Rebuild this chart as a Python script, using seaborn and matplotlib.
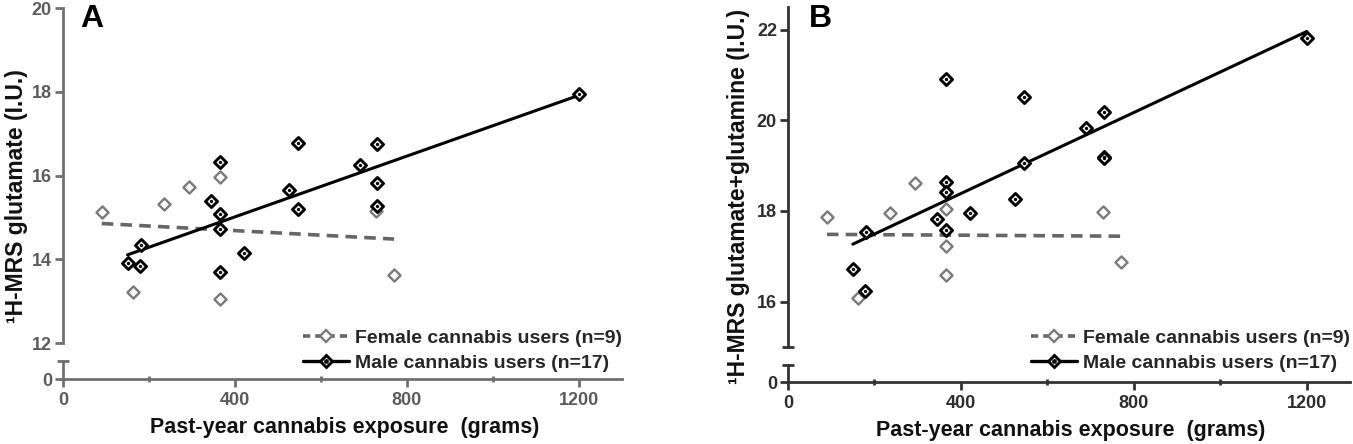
import numpy as np
import pandas as pd
import matplotlib
matplotlib.use("Agg")
import matplotlib.pyplot as plt
import seaborn as sns
from matplotlib.lines import Line2D

# ---------------- data ----------------
female_grams = [90, 162, 236, 294, 365, 365, 365, 728, 770]
female_glu = [15.14, 13.21, 15.32, 15.72, 15.97, 15.07, 13.06, 15.16, 13.63]
female_glx = [17.86, 16.08, 17.95, 18.61, 18.04, 17.23, 16.59, 17.98, 16.87]

male_grams = [150, 178, 181, 345, 365, 365, 365, 365, 420, 525, 547, 547, 690, 730, 730, 730, 1200]
male_glu = [13.92, 13.85, 14.35, 15.40, 16.32, 15.08, 14.73, 13.69, 14.14, 15.66,
            16.78, 15.20, 16.25, 16.75, 15.81, 15.27, 17.94]
male_glx = [16.72, 16.24, 17.54, 17.83, 20.91, 18.63, 18.43, 17.58, 17.95, 18.27,
            20.51, 19.05, 19.82, 20.19, 19.20, 19.16, 21.82]

x_major = [0, 400, 800, 1200]
x_minor = [200, 600, 1000]
yticks_A = [12, 14, 16, 18, 20]
yticks_B = [16, 18, 20, 22]
legend_labels = ["Female cannabis users (n=9)", "Male cannabis users (n=17)"]
xlabel = "Past-year cannabis exposure  (grams)"
ylabel_A = "\u00b9H-MRS glutamate (I.U.)"
ylabel_B = "\u00b9H-MRS glutamate+glutamine (I.U.)"

# ---------------- style ----------------
sns.set_style("ticks")
plt.rcParams["font.family"] = ["Liberation Sans", "DejaVu Sans"]
plt.rcParams["font.weight"] = "bold"
plt.rcParams["axes.labelweight"] = "bold"

FEM_C = "#7a7a7a"
MALE_C = "#000000"
TICK_FS = 13
XLAB_FS = 15.5
YLAB_FS = 16.5
LEG_FS = 14

fig = plt.figure(figsize=(13.53, 4.44), dpi=100)
H = 444.0
W = 1353.0


def fx(px):
    return px / W


def fy(py):
    return 1 - py / H


panels = [
    dict(name="A", left=63, right=622, top_t=8, top_b=343, bot_t=361, bot_b=379,
         ylim=(12, 20), yticks=yticks_A, glu_f=female_glu, glu_m=male_glu,
         axc="#707070", tickc="#5c5c5c", ylabel=ylabel_A, cap_top=False,
         ylab_x=17, xlab_y=433, letter_x=80),
    dict(name="B", left=788, right=1350, top_t=7, top_b=347, bot_t=365, bot_b=382,
         ylim=(15, 22.5), yticks=yticks_B, glu_f=female_glx, glu_m=male_glx,
         axc="#333333", tickc="#2e2e2e", ylabel=ylabel_B, cap_top=True,
         ylab_x=739, xlab_y=436, letter_x=809),
]

for p in panels:
    left = fx(p["left"])
    width = (p["right"] - p["left"]) / W
    ax = fig.add_axes([left, fy(p["top_b"]), width, (p["top_b"] - p["top_t"]) / H])
    axb = fig.add_axes([left, fy(p["bot_b"]), width, (p["bot_b"] - p["bot_t"]) / H])

    fem = pd.DataFrame({"x": female_grams, "y": p["glu_f"]})
    mal = pd.DataFrame({"x": male_grams, "y": p["glu_m"]})

    # regression lines
    sns.regplot(data=fem, x="x", y="y", ax=ax, scatter=False, ci=None, truncate=True,
                line_kws=dict(color="#666666", lw=2.6, ls=(0, (3.2, 2.0)), zorder=2))
    sns.regplot(data=mal, x="x", y="y", ax=ax, scatter=False, ci=None, truncate=True,
                line_kws=dict(color=MALE_C, lw=2.2, zorder=2))

    # points
    sns.scatterplot(data=fem, x="x", y="y", ax=ax, marker="D", s=38, color="white",
                    edgecolor=FEM_C, linewidth=1.7, zorder=3)
    sns.scatterplot(data=mal, x="x", y="y", ax=ax, marker="D", s=38, color="white",
                    edgecolor=MALE_C, linewidth=2.1, zorder=4)
    sns.scatterplot(data=mal, x="x", y="y", ax=ax, marker="o", s=6, color=MALE_C,
                    linewidth=0, zorder=5)

    for a in (ax, axb):
        a.set_xlim(0, 1300)
        a.set_facecolor("none")
        a.set_xlabel("")
        a.set_ylabel("")
        for s in ("top", "right"):
            a.spines[s].set_visible(False)
        a.spines["left"].set_color(p["axc"])
        a.spines["left"].set_linewidth(2)
        a.spines["bottom"].set_color(p["axc"])
        a.spines["bottom"].set_linewidth(2)

    # top part
    ax.set_ylim(*p["ylim"])
    ax.set_yticks(p["yticks"])
    ax.spines["bottom"].set_visible(False)
    ax.tick_params(axis="x", bottom=False, labelbottom=False)
    ax.tick_params(axis="y", length=6, width=2, color=p["axc"], labelcolor=p["tickc"],
                   labelsize=TICK_FS, pad=2)
    if p["cap_top"]:
        ax.plot([0], [0], transform=ax.transAxes, marker="_", ms=8, mew=2,
                color=p["axc"], clip_on=False)

    # bottom part (broken axis at zero)
    axb.set_ylim(0, 1)
    axb.set_yticks([0])
    axb.set_xticks(x_major)
    axb.set_xticks(x_minor, minor=True)
    axb.tick_params(axis="y", length=6, width=2, color=p["axc"], labelcolor=p["tickc"],
                    labelsize=TICK_FS, pad=2)
    axb.tick_params(axis="x", which="major", length=6, width=2, color=p["axc"],
                    labelcolor=p["tickc"], labelsize=TICK_FS, pad=3.5)
    axb.tick_params(axis="x", which="minor", length=4, width=2, color=p["axc"],
                    direction="inout")
    axb.plot([0], [1], transform=axb.transAxes, marker="_", ms=8, mew=2,
             color=p["axc"], clip_on=False)

    # labels
    axb.set_xlabel(xlabel, fontsize=XLAB_FS, color="#111111")
    axb.xaxis.set_label_coords(fx((p["left"] + p["right"]) / 2 + 2), fy(p["xlab_y"]),
                               transform=fig.transFigure)
    axb.xaxis.label.set_verticalalignment("baseline")
    ax.set_ylabel(p["ylabel"], fontsize=YLAB_FS, color="#111111")
    ax.yaxis.set_label_coords(fx(p["ylab_x"]), fy(196), transform=fig.transFigure)
    ax.yaxis.label.set_verticalalignment("center")

    fig.text(fx(p["letter_x"]), fy(27), p["name"], fontsize=23, fontweight="bold",
             color="black", ha="left", va="baseline")

    # legend
    h_f = Line2D([], [], color="#666666", lw=2.6, ls=(0, (2.0, 1.4)), marker="D",
                 ms=6.5, mfc="white", mec=FEM_C, mew=1.7)
    h_m1 = Line2D([], [], color=MALE_C, lw=2.4, marker="D", ms=6.5, mfc="white",
                  mec=MALE_C, mew=2.1)
    h_m2 = Line2D([], [], color=MALE_C, lw=0, marker="o", ms=2.4, mec=MALE_C, mfc=MALE_C)
    ax.legend([h_f, (h_m1, h_m2)], legend_labels, loc="lower right",
              bbox_to_anchor=(fx(p["right"]), fy(372)), bbox_transform=fig.transFigure,
              frameon=False, borderpad=0, borderaxespad=0, handlelength=2.4,
              handletextpad=0.3, labelspacing=0.4,
              prop=dict(family="Liberation Sans", weight="bold", size=LEG_FS))

fig.savefig("out.png", dpi=100)
